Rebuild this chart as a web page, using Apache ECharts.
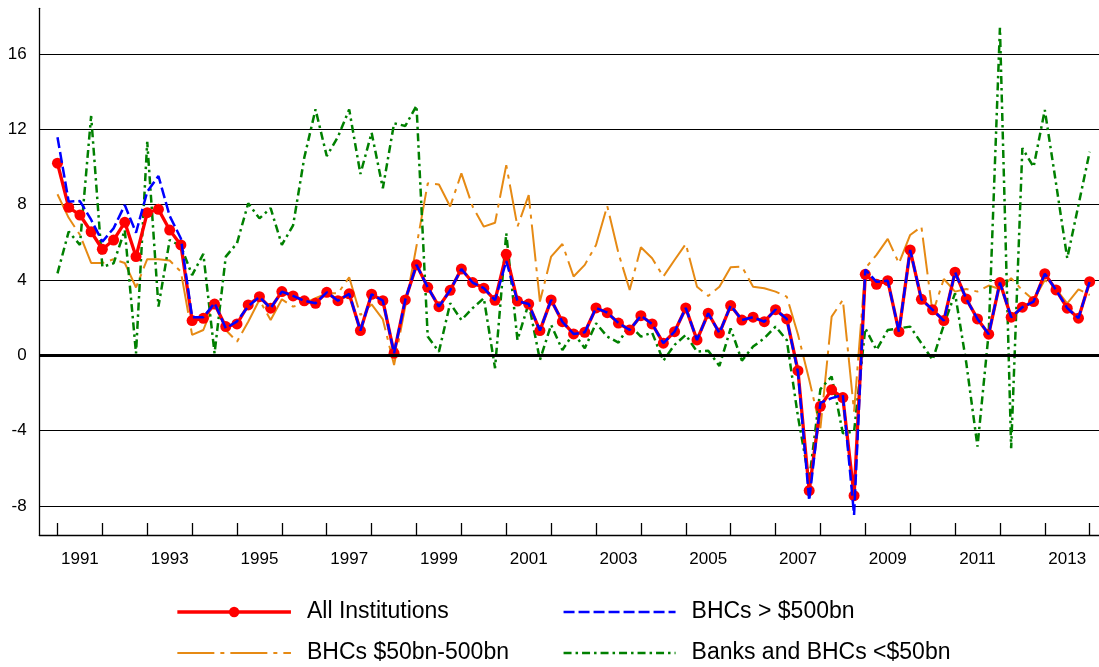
<!DOCTYPE html>
<html><head><meta charset="utf-8">
<script src="https://cdn.jsdelivr.net/npm/echarts@6/dist/echarts.min.js"></script>
<style>html,body{margin:0;padding:0;background:#fff}#c{width:1099px;height:667px}</style>
</head><body><div id="c"></div>
<script>
// Quarterly observations 1991Q1 .. 2014Q1 (93 quarters)
const quarters = [];
for (let y = 1991; y <= 2014; y++) for (let q = 1; q <= 4; q++) quarters.push(y + 'Q' + q);
quarters.length = 93;

const allInstitutions = [10.2,7.86,7.45,6.56,5.63,6.12,7.06,5.24,7.57,7.75,6.65,5.86,1.84,1.96,2.72,1.52,1.66,2.67,3.11,2.5,3.38,3.15,2.89,2.76,3.34,2.9,3.26,1.31,3.24,2.9,0.11,2.94,4.8,3.61,2.58,3.45,4.58,3.86,3.56,2.92,5.36,2.88,2.72,1.31,2.94,1.78,1.13,1.22,2.51,2.26,1.71,1.34,2.1,1.66,0.64,1.25,2.51,0.81,2.23,1.18,2.64,1.87,2.02,1.78,2.42,1.93,-0.82,-7.19,-2.71,-1.84,-2.25,-7.46,4.3,3.77,3.96,1.25,5.59,2.97,2.41,1.84,4.41,2.99,1.93,1.12,3.86,2.02,2.55,2.85,4.33,3.47,2.5,1.97,3.91];

const bhcsOver500 = [11.58,8.16,8.19,7.2,6.03,6.74,7.98,6.51,8.69,9.52,7.4,6.2,2.02,2.02,2.77,1.43,1.8,2.6,3.1,2.5,3.38,3.15,2.89,2.76,3.34,2.9,3.26,1.31,3.24,2.9,0.11,2.94,4.8,3.61,2.58,3.45,4.58,3.86,3.56,2.92,5.0,2.88,2.72,1.31,2.94,1.78,1.13,1.22,2.51,2.26,1.71,1.34,2.1,1.66,0.64,1.25,2.51,0.81,2.23,1.18,2.64,1.87,2.02,1.78,2.42,1.93,-0.9,-7.72,-2.53,-2.28,-2.11,-8.48,4.55,3.9,3.96,1.25,5.59,2.97,2.41,1.84,4.41,2.99,1.93,1.12,3.86,2.02,2.55,2.85,4.33,3.47,2.5,1.97,3.91];

const bhcs50to500 = [8.55,7.3,6.4,4.9,4.9,5.1,4.9,3.6,5.1,5.1,5.03,4.44,1.08,1.34,2.85,1.34,0.72,1.78,2.94,1.87,2.97,2.58,2.76,3.03,3.29,3.29,4.14,2.14,2.7,1.9,-0.52,2.6,5.8,9.13,9.07,7.9,9.66,7.9,6.83,7.04,10.1,6.83,8.51,2.85,5.24,5.91,4.18,4.8,5.86,7.93,5.42,3.47,5.74,5.15,4.18,5.06,5.91,3.64,3.15,3.64,4.67,4.71,3.64,3.56,3.38,3.11,1.1,-1.3,-3.88,2.05,2.94,-3.0,4.62,5.33,6.18,4.88,6.39,6.83,2.23,4.05,3.38,3.52,3.38,3.7,3.52,4.09,3.45,2.94,4.0,3.5,2.76,3.5,3.2];

const banksUnder50 = [4.35,6.57,5.86,12.71,4.7,4.88,6.65,0.1,11.34,2.58,6.12,5.8,4.26,5.38,0.1,5.24,5.95,8.07,7.27,7.81,5.86,6.9,10.5,13.06,10.58,11.6,13.06,9.63,11.82,8.87,12.32,12.18,13.26,0.99,0.19,2.76,1.87,2.5,3.03,-0.69,6.48,0.81,2.76,-0.25,1.61,0.28,1.17,0.37,1.7,0.99,0.67,1.61,0.99,1.2,-0.29,0.55,1.08,0.19,0.24,-0.57,1.43,-0.29,0.46,0.9,1.52,0.81,-3.26,-6.62,-1.8,-1.13,-4.14,-4.06,1.43,0.28,1.34,1.43,1.52,0.64,-0.25,1.61,3.29,-0.4,-4.85,1.2,17.4,-4.94,11.0,10.0,13.03,9.13,5.15,7.98,10.81];

const yTicks = [-8, -4, 0, 4, 8, 12, 16];
const tickYears = [1991,1992,1993,1994,1995,1996,1997,1998,1999,2000,2001,2002,2003,2004,2005,2006,2007,2008,2009,2010,2011,2012,2013,2014];
const labelYears = [1991,1993,1995,1997,1999,2001,2003,2005,2007,2009,2011,2013];

// positions on the quarter-index axis
const tickIdx = tickYears.map(y => (y - 1991) * 4);
const labelIdx = labelYears.map(y => (y - 1991) * 4 + 2);
const idxToYear = v => String(1991 + Math.round((v - 2) / 4));

const pairs = arr => arr.map((v, i) => [i, v]);
const FONT = '"Liberation Sans", Arial, sans-serif';
const legendText = {fontSize: 23, color: '#000', fontFamily: FONT, lineHeight: 26, padding: [0, 0, 0, 11]};
const noSym = {opacity: 0};

const chart = echarts.init(document.getElementById('c'), null, {renderer: 'canvas'});
chart.setOption({
  animation: false,
  backgroundColor: '#fff',
  grid: {left: 39.3, right: 0, top: 8.3, bottom: 132, containLabel: false},
  xAxis: {
    type: 'value', min: -1.62, max: 92.83,
    axisLine: {show: true, onZero: false, lineStyle: {color: '#000', width: 1.3}},
    axisTick: {show: true, inside: true, length: 12, customValues: tickIdx, lineStyle: {color: '#000', width: 1.3}},
    axisLabel: {customValues: labelIdx, formatter: idxToYear, fontSize: 17, color: '#000', margin: 16, fontFamily: FONT},
    splitLine: {show: false}
  },
  yAxis: {
    type: 'value', min: -9.55, max: 18.43,
    axisLine: {show: true, onZero: false, lineStyle: {color: '#000', width: 1.3}},
    axisTick: {show: false, customValues: yTicks},
    axisLabel: {customValues: yTicks, fontSize: 17, color: '#000', margin: 12.6, fontFamily: FONT},
    splitLine: {show: true, lineStyle: {color: '#000', width: 1.2}}
  },
  legend: [
    {
      data: [{name: 'All Institutions'}, {name: 'BHCs $50bn-500bn', itemStyle: noSym}],
      orient: 'vertical', left: 175.7, top: 599, padding: 0,
      itemWidth: 113.6, itemHeight: 13, itemGap: 15, selectedMode: false,
      lineStyle: {width: 'inherit'},
      textStyle: legendText
    },
    {
      data: [{name: 'BHCs > $500bn', itemStyle: noSym}, {name: 'Banks and BHCs <$50bn', itemStyle: noSym}],
      orient: 'vertical', left: 562.3, top: 599, padding: 0,
      itemWidth: 112, itemHeight: 13, itemGap: 15, selectedMode: false,
      lineStyle: {width: 'inherit'},
      textStyle: legendText
    }
  ],
  series: [
    {
      name: 'BHCs $50bn-500bn', type: 'line', data: pairs(bhcs50to500), symbol: 'none', z: 2,
      itemStyle: {color: '#e68a14'},
      lineStyle: {color: '#e68a14', width: 2, type: [37, 6, 4, 6]}, silent: true
    },
    {
      name: 'Banks and BHCs <$50bn', type: 'line', data: pairs(banksUnder50), symbol: 'none', z: 2,
      itemStyle: {color: '#008000'},
      lineStyle: {color: '#008000', width: 2.5, type: [8, 4, 2.5, 4]}, silent: true,
      markLine: {silent: true, symbol: 'none', label: {show: false}, animation: false,
        lineStyle: {color: '#000', width: 3, type: 'solid'}, data: [{yAxis: 0}]}
    },
    {
      name: 'All Institutions', type: 'line', data: pairs(allInstitutions), symbol: 'circle', symbolSize: 11,
      showAllSymbol: true, z: 3,
      itemStyle: {color: '#ff0000'},
      lineStyle: {color: '#ff0000', width: 3.3}, silent: true
    },
    {
      name: 'BHCs > $500bn', type: 'line', data: pairs(bhcsOver500), symbol: 'none', z: 4,
      itemStyle: {color: '#0000ff'},
      lineStyle: {color: '#0000ff', width: 2.5, type: [11, 4]}, silent: true
    }
  ]
});
</script></body></html>
